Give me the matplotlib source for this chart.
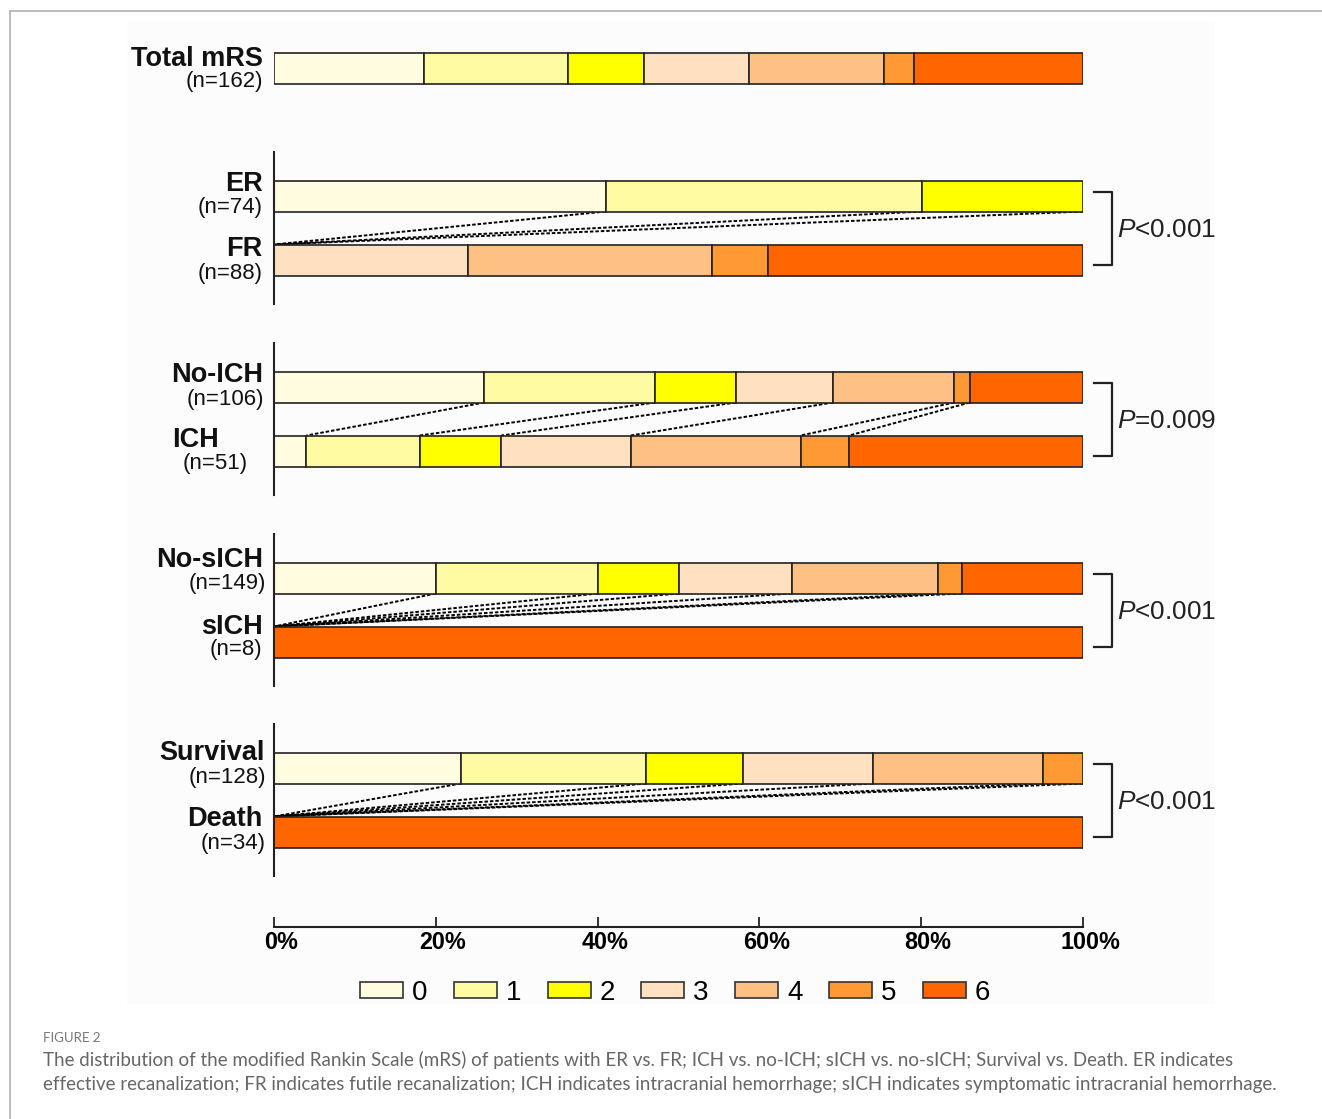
#!/usr/bin/env python3

import matplotlib
matplotlib.use('Agg')

import matplotlib.pyplot as plt
from matplotlib import font_manager
from matplotlib.patches import Patch, Rectangle
from matplotlib.lines import Line2D
import matplotlib.transforms as mtransforms
import numpy as np

## Data (percent of patients per mRS score 0..6) ##
mrs_scores = ['0', '1', '2', '3', '4', '5', '6']

total_mrs = [18.5, 17.9, 9.3, 13.0, 16.7, 3.7, 20.9]
er = [41.0, 39.1, 19.9, 0, 0, 0, 0]
fr = [0, 0, 0, 24.0, 30.1, 7.0, 38.9]
no_ich = [26.0, 21.1, 10.0, 12.0, 15.0, 1.9, 14.0]
ich = [4.0, 14.0, 10.1, 16.0, 21.0, 6.0, 28.9]
no_sich = [20.0, 20.0, 10.1, 13.9, 18.1, 2.9, 15.0]
sich = [0, 0, 0, 0, 0, 0, 100.0]
survival = [23.1, 22.9, 12.0, 16.0, 21.1, 4.9, 0]
death = [0, 0, 0, 0, 0, 0, 100.0]

group_names = ['Total mRS', 'ER', 'FR', 'No-ICH', 'ICH', 'No-sICH', 'sICH', 'Survival', 'Death']
group_n = ['(n=162)', '(n=74)', '(n=88)', '(n=106)', '(n=51)', '(n=149)', '(n=8)', '(n=128)', '(n=34)']
group_values = [total_mrs, er, fr, no_ich, ich, no_sich, sich, survival, death]

p_values = ['<0.001', '=0.009', '<0.001', '<0.001']

colors = ['#FFFCE0', '#FFFBA3', '#FFFF00', '#FFE0C0', '#FFC084', '#FF9933', '#FF6600']

caption_head = 'FIGURE 2'
caption = ('The distribution of the modified Rankin Scale (mRS) of patients with ER vs. FR; ICH vs. no-ICH; '
           'sICH vs. no-sICH; Survival vs. Death. ER indicates\n'
           'effective recanalization; FR indicates futile recanalization; ICH indicates intracranial hemorrhage; '
           'sICH indicates symptomatic intracranial hemorrhage.')

## Layout (pixel rows, y grows downward) ##
W, H = 1322, 1119
bar_y = [68, 196, 260, 387, 451, 578, 642, 768, 832]
name_dy = [-9, -12, -11, -12, -11, -18, -15, -15, -13]
n_dy = [14, 11, 13, 12, 12, 6, 8, 9, 11]
name_x = [-1.4, -1.4, -1.4, -1.4, -6.8, -1.4, -1.4, -1.2, -1.4]
n_x = [-1.4, -1.4, -1.4, -1.2, -3.2, -1.0, -1.4, -1.0, -1.0]
pairs = [(1, 2), (3, 4), (5, 6), (7, 8)]
bar_h = 31

names = {f.name for f in font_manager.fontManager.ttflist}
NARROW = 'Liberation Sans Narrow' if 'Liberation Sans Narrow' in names else 'Liberation Sans'
nscale = 1.0 if NARROW == 'Liberation Sans Narrow' else 0.82

plt.rcParams['font.family'] = ['Liberation Sans', 'DejaVu Sans']
plt.rcParams['mathtext.fontset'] = 'custom'
plt.rcParams['mathtext.it'] = NARROW + ':italic'
plt.rcParams['mathtext.rm'] = NARROW

fig = plt.figure(figsize=(W / 100, H / 100), dpi=100)

## page frame + chart background ##
fig.patches.append(Rectangle((127 / W, 1 - 1004 / H), (1215 - 127) / W, (1004 - 22) / H,
                             transform=fig.transFigure, facecolor='#fcfcfc', edgecolor='none', zorder=-5))
fig.lines.append(Line2D([10 / W, 1], [1 - 11 / H, 1 - 11 / H], transform=fig.transFigure, color='#b0b0b0', lw=1.2))
fig.lines.append(Line2D([10 / W, 10 / W], [0, 1 - 11 / H], transform=fig.transFigure, color='#b0b0b0', lw=1.2))

ax = fig.add_axes([274 / W, 1 - 927 / H, 809 / W, (927 - 20) / H])
ax.set_zorder(3)
ax.set_facecolor('none')
ax.set_xlim(0, 100)
ax.set_ylim(927, 20)

## Bars ##
for vals, y in zip(group_values, bar_y):
    lefts = np.concatenate([[0], np.cumsum(vals)[:-1]])
    for k, (v, l) in enumerate(zip(vals, lefts)):
        if v > 0:
            ax.barh(y, v, left=l, height=bar_h, color=colors[k], edgecolor='#222222', linewidth=1.2, zorder=3)

## connectors, spines, brackets ##
for (a, b), p in zip(pairs, p_values):
    top, bot = np.cumsum(group_values[a]), np.cumsum(group_values[b])
    for k in range(6):
        if group_values[a][k] > 0:
            ax.plot([top[k], bot[k]], [bar_y[a] + bar_h / 2, bar_y[b] - bar_h / 2], color='black',
                    lw=1.4, linestyle=(0, (1.8, 1.0)), zorder=2)
    mid = (bar_y[a] + bar_y[b]) / 2
    ax.plot([0, 0], [mid - 76, mid + 76], color='#222222', lw=1.5, clip_on=False, zorder=4)
    y0, y1 = bar_y[a] - 4, bar_y[b] + 5
    ax.plot([101.4, 103.6, 103.6, 101.4], [y0, y0, y1, y1], color='#222222', lw=1.6, clip_on=False)
    ax.text(104.2, mid + 2, r'$P$' + p, fontsize=23 * nscale, family=NARROW, va='center', ha='left',
            color='#222222')

## group labels ##
for i, y in enumerate(bar_y):
    ax.text(name_x[i], y + name_dy[i], group_names[i], ha='right', va='center', fontsize=19.5,
            fontweight='bold', color='#111111')
    ax.text(n_x[i], y + n_dy[i], group_n[i], ha='right', va='center', fontsize=16, color='#111111')

## x axis ##
for s in ['left', 'top', 'right']:
    ax.spines[s].set_visible(False)
ax.spines['bottom'].set_linewidth(1.5)
ax.spines['bottom'].set_color('#222222')
ax.set_yticks([])
ax.set_xticks([0, 20, 40, 60, 80, 100])
ax.set_xticklabels(['0%', '20%', '40%', '60%', '80%', '100%'], family=NARROW, fontweight='bold',
                   fontsize=20.5 * nscale)
ax.tick_params(axis='x', direction='in', length=7.5, width=1.3, color='#222222', pad=3)
offset = mtransforms.ScaledTranslation(7 / 100, 0, fig.dpi_scale_trans)
for lab in ax.get_xticklabels():
    lab.set_transform(lab.get_transform() + offset)

## legend ##
handles = [Patch(facecolor=c, edgecolor='#333333', linewidth=1.2) for c in colors]
fig.legend(handles, mrs_scores, loc='center', bbox_to_anchor=(675 / W, 1 - 993 / H), ncol=7,
           frameon=False, prop={'family': 'Liberation Sans', 'size': 20}, handlelength=1.55,
           handleheight=0.54, handletextpad=0.32, columnspacing=0.95, borderpad=0)

## caption ##
fig.text(43 / W, 1 - 1038 / H, caption_head, fontsize=9.5, color='#777777', va='center',
         family=['Lato', 'DejaVu Sans'])
fig.text(43 / W, 1 - 1072 / H, caption, fontsize=13.5, color='#666666', va='center', linespacing=1.45,
         family=['Lato', 'DejaVu Sans'])

fig.savefig('out.png', dpi=100)
